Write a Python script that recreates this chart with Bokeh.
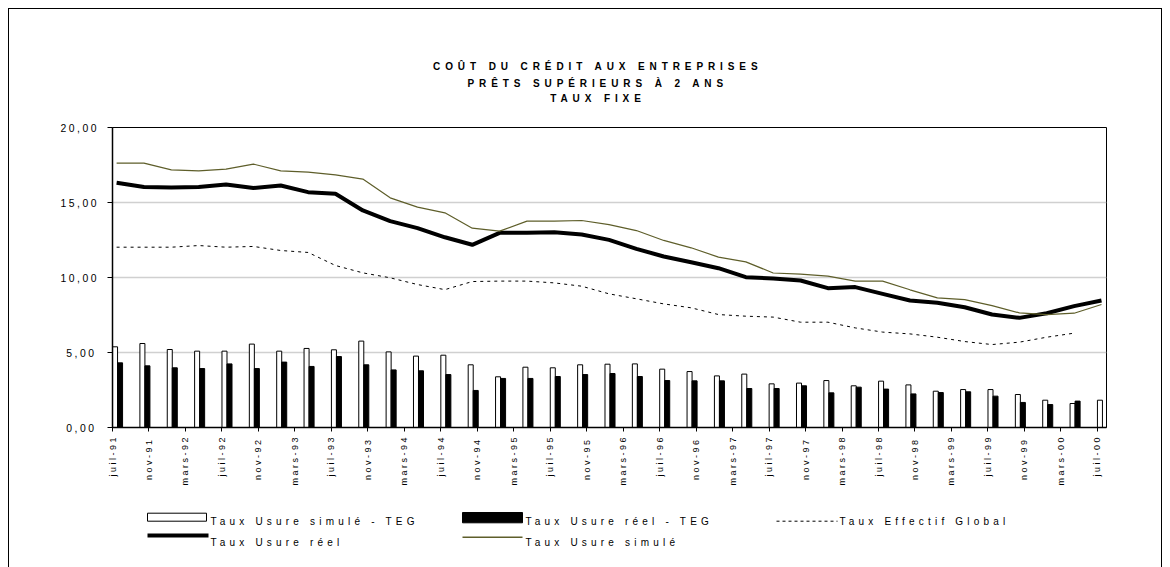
import math
from bokeh.plotting import figure
from bokeh.layouts import column
from bokeh.models import Range1d, FixedTicker, ColumnDataSource
from bokeh.core.properties import value
from bokeh.embed import file_html
from bokeh.resources import INLINE

# ---------------- data ----------------
title_lines = ["COÛT DU CRÉDIT AUX ENTREPRISES", "PRÊTS SUPÉRIEURS À 2 ANS", "TAUX FIXE"]

tick_labels = ["juil-91", "nov-91", "mars-92", "juil-92", "nov-92", "mars-93", "juil-93",
               "nov-93", "mars-94", "juil-94", "nov-94", "mars-95", "juil-95", "nov-95",
               "mars-96", "juil-96", "nov-96", "mars-97", "juil-97", "nov-97", "mars-98",
               "juil-98", "nov-98", "mars-99", "juil-99", "nov-99", "mars-00", "juil-00"]

y_ticks = [0, 5, 10, 15, 20]
y_tick_labels = ["0,00", "5,00", "10,00", "15,00", "20,00"]

# quarterly observations, juil-91 ... juil-00
periods = ["1991-07", "1991-10", "1992-01", "1992-04", "1992-07", "1992-10", "1993-01",
           "1993-04", "1993-07", "1993-10", "1994-01", "1994-04", "1994-07", "1994-10",
           "1995-01", "1995-04", "1995-07", "1995-10", "1996-01", "1996-04", "1996-07",
           "1996-10", "1997-01", "1997-04", "1997-07", "1997-10", "1998-01", "1998-04",
           "1998-07", "1998-10", "1999-01", "1999-04", "1999-07", "1999-10", "2000-01",
           "2000-04", "2000-07"]

usure_reel = [16.31, 16.04, 16.00, 16.04, 16.20, 15.96, 16.13, 15.69, 15.58, 14.47,
              13.76, 13.29, 12.68, 12.18, 12.98, 12.98, 13.02, 12.87, 12.51, 11.91,
              11.40, 11.02, 10.62, 10.02, 9.93, 9.80, 9.29, 9.36, 8.91, 8.47,
              8.31, 8.02, 7.53, 7.31, 7.62, 8.09, 8.47]

usure_simule = [17.62, 17.62, 17.18, 17.11, 17.22, 17.56, 17.11, 17.02, 16.84, 16.56,
                15.31, 14.69, 14.31, 13.29, 13.09, 13.76, 13.76, 13.80, 13.53, 13.13,
                12.47, 11.98, 11.36, 11.04, 10.30, 10.22, 10.09, 9.76, 9.76, 9.18,
                8.64, 8.53, 8.13, 7.64, 7.53, 7.62, 8.20]

teg = [12.02, 12.02, 12.02, 12.13, 12.02, 12.07, 11.80, 11.67, 10.80, 10.31,
       9.98, 9.53, 9.19, 9.73, 9.76, 9.76, 9.64, 9.42, 8.91, 8.58,
       8.24, 7.98, 7.53, 7.42, 7.36, 7.02, 7.02, 6.64, 6.36, 6.24,
       6.02, 5.73, 5.53, 5.69, 6.02, 6.29]

simule_moins_teg = [5.38, 5.60, 5.20, 5.09, 5.09, 5.56, 5.09, 5.27, 5.18, 5.76,
                    5.04, 4.76, 4.82, 4.18, 3.38, 4.02, 3.98, 4.18, 4.22, 4.24,
                    3.89, 3.73, 3.44, 3.56, 2.91, 2.96, 3.13, 2.78, 3.09, 2.84,
                    2.42, 2.53, 2.53, 2.20, 1.82, 1.60, 1.82]

reel_moins_teg = [4.31, 4.11, 3.98, 3.93, 4.24, 3.93, 4.36, 4.07, 4.73, 4.18,
                  3.84, 3.78, 3.53, 2.47, 3.27, 3.27, 3.40, 3.53, 3.60, 3.40,
                  3.13, 3.11, 3.11, 2.60, 2.60, 2.78, 2.31, 2.69, 2.56, 2.24,
                  2.33, 2.38, 2.09, 1.67, 1.53, 1.76]

series_names = ["Taux Usure simulé - TEG", "Taux Usure réel - TEG", "Taux Effectif Global",
                "Taux Usure réel", "Taux Usure simulé"]

# ---------------- helpers ----------------
def month_index(s):
    y, m = s.split("-")
    return (int(y) - 1991) * 12 + int(m) - 7

months = [month_index(s) for s in periods]
n_months = months[-1] + 1          # axis spans one month slot past the last date

FONT = "Liberation Sans"
W = 1152
BL, BR = 103, 55                   # main plot side borders (frames of the column align)
OLIVE = "#5e5e2a"


def blank(height):
    f = figure(width=W, height=height, output_backend="svg", toolbar_location=None,
               x_range=Range1d(BL, W - BR), y_range=Range1d(height, 0),
               x_axis_type=None, y_axis_type=None,
               min_border=0, min_border_left=BL, min_border_right=BR,
               min_border_top=0, min_border_bottom=0,
               background_fill_color="white", border_fill_color="white")
    f.outline_line_color = None
    f.grid.visible = False
    return f

# ---------------- header (titles) ----------------
HEAD_H = 108
TITLE_LS = 4.9
head = blank(HEAD_H)
head.styles = {"letter-spacing": f"{TITLE_LS}px"}
title_cx = 586
title_y = [57, 73.7, 89.3]
head.text(x=[title_cx - (len(t) - 1) * TITLE_LS / 2 for t in title_lines], y=title_y,
          text=title_lines, text_align="center", text_baseline="middle",
          text_font=value(FONT), text_font_size=value("10px"), text_font_style="bold",
          text_color="black")

# ---------------- main plot ----------------
MAIN_H = 380
MAIN_LS = 2.5
p = figure(width=W, height=MAIN_H, output_backend="svg", toolbar_location=None,
           x_range=Range1d(0, n_months), y_range=Range1d(0, 20),
           min_border_left=BL, min_border_right=BR, min_border_top=10, min_border_bottom=70,
           background_fill_color="white", border_fill_color="white")
p.styles = {"letter-spacing": f"{MAIN_LS}px"}

p.outline_line_color = "black"
p.outline_line_width = 1
p.xgrid.visible = False
p.ygrid.grid_line_color = "#d0d0d0"
p.ygrid.grid_line_width = 1.5

p.yaxis.ticker = FixedTicker(ticks=y_ticks)
p.yaxis.major_label_overrides = {t: l for t, l in zip(y_ticks, y_tick_labels)}
p.yaxis.minor_tick_line_color = None
p.yaxis.major_tick_in = 0
p.yaxis.major_tick_out = 5
p.yaxis.major_label_standoff = 21
p.yaxis.major_label_text_font = FONT
p.yaxis.major_label_text_font_size = "10.4px"
p.yaxis.major_label_text_color = "black"
p.yaxis.axis_line_color = "black"
p.yaxis.axis_line_width = 1.5

x_ticks = [4 * i for i in range(len(tick_labels))]
p.xaxis.ticker = FixedTicker(ticks=x_ticks)
p.xaxis.major_label_overrides = {t: l for t, l in zip(x_ticks, tick_labels)}
p.xaxis.major_label_orientation = math.pi / 2      # reads bottom-to-top
p.xaxis.minor_tick_line_color = None
p.xaxis.major_tick_in = 0
p.xaxis.major_tick_out = 4
p.xaxis.major_label_standoff = 21
p.xaxis.major_label_text_font = FONT
p.xaxis.major_label_text_font_size = "9px"
p.xaxis.major_label_text_color = "black"
p.xaxis.axis_line_color = "black"
p.xaxis.axis_line_width = 1.5

bw = 0.55
src_w = ColumnDataSource(dict(x=[m + 0.28 for m in months], top=simule_moins_teg))
src_b = ColumnDataSource(dict(x=[m + 0.83 for m in months[:len(reel_moins_teg)]], top=reel_moins_teg))
p.vbar(x="x", top="top", bottom=0, width=bw, source=src_w,
       fill_color="white", line_color="black", line_width=1)
p.vbar(x="x", top="top", bottom=0, width=bw, source=src_b,
       fill_color="black", line_color="black", line_width=1)

lx = [m + 0.45 for m in months]
p.line(lx[:len(teg)], teg, line_color="black", line_width=1, line_dash="3 4")
p.line(lx, usure_reel, line_color="black", line_width=4, line_join="round")
p.line(lx, usure_simule, line_color=OLIVE, line_width=1.2)

# ---------------- footer (legend) ----------------
FOOT_H = 70
foot = blank(FOOT_H)
foot.styles = {"letter-spacing": "4.2px"}
col_x = [138, 453, 767]          # swatch left edges per legend column
sw_w = 60
row_y = [23.7, 44.7]             # text centres per legend row
foot.quad(left=[col_x[0]], right=[col_x[0] + sw_w - 1], top=[row_y[0] - 8], bottom=[row_y[0]],
          fill_color="white", line_color="black", line_width=1)
foot.quad(left=[col_x[1]], right=[col_x[1] + sw_w], top=[row_y[0] - 8.7], bottom=[row_y[0] + 1.6],
          fill_color="black", line_color="black", line_width=1)
foot.line([col_x[2], col_x[2] + sw_w + 1], [row_y[0], row_y[0]], line_color="black",
          line_width=1, line_dash="3 3")
foot.line([col_x[0], col_x[0] + sw_w + 1], [row_y[1] - 6.7, row_y[1] - 6.7], line_color="black", line_width=4)
foot.line([col_x[1], col_x[1] + sw_w], [row_y[1] - 5, row_y[1] - 5], line_color=OLIVE, line_width=1.5)
lab_x = [c + sw_w + 3 for c in col_x]
foot.text(x=[lab_x[0], lab_x[1], lab_x[2], lab_x[0], lab_x[1]],
          y=[row_y[0], row_y[0], row_y[0], row_y[1], row_y[1]],
          text=series_names, text_align="left", text_baseline="middle",
          text_font=value(FONT), text_font_size=value("10px"), text_color="black")

page = column(head, p, foot, spacing=0)
page.styles = {"margin-left": "8px", "margin-top": "8px", "border-left": "1px solid black",
               "border-right": "1px solid black", "border-top": "1px solid black"}

open("out.html", "w").write(file_html(page, INLINE))
